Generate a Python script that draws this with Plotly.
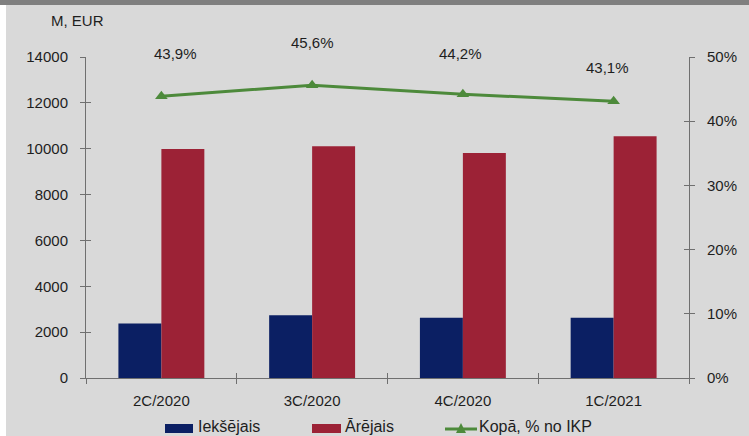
import plotly.graph_objects as go

categories = ["2C/2020", "3C/2020", "4C/2020", "1C/2021"]
iekshejais = [2380, 2740, 2630, 2630]
arejais = [9990, 10110, 9810, 10540]
kopa_pct = [43.9, 45.6, 44.2, 43.1]

series_names = ["Iekšējais", "Ārējais", "Kopā, % no IKP"]
y_title = "M, EUR"

W, H = 749, 436
L, R, T, B = 86, 689, 57, 378  # plot area pixels

BLUE = "#0b1f63"
RED = "#9c2236"
GREEN = "#4d8a3b"
AX = "#6f6f6f"
TXT = "#1e1e1e"
FONT = "Liberation Sans, Arial, sans-serif"


def px(x):
    return (x - L) / (R - L)


def py(y):
    return (B - y) / (B - T)


fig = go.Figure()
fig.add_trace(go.Bar(x=categories, y=iekshejais, name=series_names[0],
                     marker=dict(color=BLUE, line=dict(width=0)), showlegend=False))
fig.add_trace(go.Bar(x=categories, y=arejais, name=series_names[1],
                     marker=dict(color=RED, line=dict(width=0)), showlegend=False))
fig.add_trace(go.Scatter(x=categories, y=kopa_pct, name=series_names[2], yaxis="y2",
                         mode="lines+markers",
                         line=dict(color=GREEN, width=3),
                         marker=dict(symbol="triangle-up", size=11, color=GREEN),
                         showlegend=False))
# invisible helper traces for the crossing (inside) tick halves
fig.add_trace(go.Scatter(x=categories, y=[0] * 4, xaxis="x2", yaxis="y3", mode="none",
                         showlegend=False, hoverinfo="skip"))
fig.add_trace(go.Scatter(x=categories, y=[0] * 4, xaxis="x2", yaxis="y4", mode="none",
                         showlegend=False, hoverinfo="skip"))

common_font = dict(family=FONT, size=15, color=TXT)

fig.update_layout(
    width=W, height=H,
    margin=dict(l=L, r=W - R, t=T, b=H - B, pad=0),
    paper_bgcolor="#d9d9d9",
    plot_bgcolor="#d9d9d9",
    barmode="group",
    bargap=0.43,
    bargroupgap=0,
    font=common_font,
    xaxis=dict(type="category", showline=True, linecolor=AX, linewidth=1,
               ticks="outside", ticklen=5, tickcolor=AX, tickson="boundaries",
               showgrid=False, tickfont=common_font, ticklabelstandoff=9,
               range=[-0.5, 3.5]),
    xaxis2=dict(type="category", overlaying="x", anchor="y", showline=False,
                ticks="inside", ticklen=5, tickcolor=AX, tickson="boundaries",
                showgrid=False, showticklabels=False, range=[-0.5, 3.5]),
    yaxis=dict(range=[0, 14000], dtick=2000, tickformat="d", showline=True,
               linecolor=AX, linewidth=1, ticks="outside", ticklen=5, tickcolor=AX,
               showgrid=False, zeroline=False, tickfont=common_font,
               ticklabelstandoff=9),
    yaxis2=dict(range=[0, 50], dtick=10, ticksuffix="%", overlaying="y", side="right",
                showline=True, linecolor=AX, linewidth=1, ticks="outside", ticklen=5,
                tickcolor=AX, showgrid=False, zeroline=False, tickfont=common_font,
                ticklabelstandoff=9),
    yaxis3=dict(range=[0, 14000], dtick=2000, overlaying="y", side="left",
                anchor="x2", showline=False, ticks="inside", ticklen=5, tickcolor=AX,
                showgrid=False, zeroline=False, showticklabels=False),
    yaxis4=dict(range=[0, 50], dtick=10, overlaying="y", side="right",
                anchor="x2", showline=False, ticks="inside", ticklen=5, tickcolor=AX,
                showgrid=False, zeroline=False, showticklabels=False),
)

shapes = []
annotations = []

# frame decorations: top dark band and left white strip
shapes.append(dict(type="rect", xref="paper", yref="paper", x0=px(-20), x1=px(W + 20),
                   y0=py(5), y1=py(-30), fillcolor="#7f7f7f", line=dict(width=0),
                   layer="above"))
shapes.append(dict(type="rect", xref="paper", yref="paper", x0=px(-30), x1=px(6),
                   y0=py(H + 30), y1=py(5), fillcolor="#ffffff", line=dict(width=0),
                   layer="above"))

# axis title
annotations.append(dict(text=y_title, xref="paper", yref="paper", x=px(77), y=py(20),
                        xanchor="center", yanchor="middle", showarrow=False,
                        font=dict(family=FONT, size=15, color=TXT)))

# data labels for the line
label_shift = [(14, 43), (0, 43), (-2, 41), (-6, 34)]
for c, v, (dx, dy) in zip(categories, kopa_pct, label_shift):
    annotations.append(dict(text=f"{v:.1f}%".replace(".", ","), x=c, y=v, xref="x",
                            yref="y2", xshift=dx, yshift=dy, showarrow=False,
                            xanchor="center", yanchor="middle",
                            font=dict(family=FONT, size=15, color=TXT)))

# manual legend
leg_y = 427
shapes.append(dict(type="rect", xref="paper", yref="paper", x0=px(165), x1=px(193),
                   y0=py(433), y1=py(424), fillcolor=BLUE, line=dict(width=0)))
annotations.append(dict(text=series_names[0], xref="paper", yref="paper", x=px(196),
                        y=py(leg_y), xanchor="left", yanchor="middle", showarrow=False,
                        font=dict(family=FONT, size=16, color=TXT)))
shapes.append(dict(type="rect", xref="paper", yref="paper", x0=px(312), x1=px(341),
                   y0=py(433), y1=py(424), fillcolor=RED, line=dict(width=0)))
annotations.append(dict(text=series_names[1], xref="paper", yref="paper", x=px(343),
                        y=py(leg_y), xanchor="left", yanchor="middle", showarrow=False,
                        font=dict(family=FONT, size=16, color=TXT)))
shapes.append(dict(type="line", xref="paper", yref="paper", x0=px(445), x1=px(477),
                   y0=py(429), y1=py(429), line=dict(color=GREEN, width=3)))
shapes.append(dict(type="path", xref="paper", yref="paper",
                   path=f"M {px(456)},{py(433)} L {px(466)},{py(433)} L {px(461)},{py(423)} Z",
                   fillcolor=GREEN, line=dict(width=0)))
annotations.append(dict(text=series_names[2], xref="paper", yref="paper", x=px(477),
                        y=py(leg_y), xanchor="left", yanchor="middle", showarrow=False,
                        font=dict(family=FONT, size=16, color=TXT)))

fig.update_layout(shapes=shapes, annotations=annotations)

fig.write_html(
    "out.html",
    config={"displayModeBar": False},
    post_script="document.body.style.margin='0';document.body.style.overflow='hidden';",
)
